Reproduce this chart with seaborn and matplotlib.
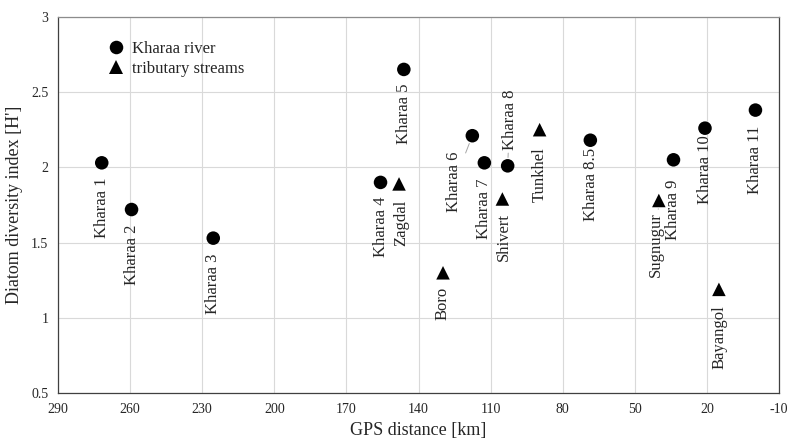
import numpy as np
import pandas as pd
import matplotlib
matplotlib.use("Agg")
import matplotlib.pyplot as plt
import seaborn as sns

# ==========================================
# DATA
# ==========================================

sites = ['Kharaa 1', 'Kharaa 2', 'Kharaa 3', 'Kharaa 4', 'Zagdal', 'Kharaa 5',
         'Boro', 'Kharaa 6', 'Kharaa 7', 'Shivert', 'Kharaa 8', 'Tunkhel',
         'Kharaa 8.5', 'Sugnugur', 'Kharaa 9', 'Kharaa 10', 'Bayangol', 'Kharaa 11']
distance_km = [271.8, 259.4, 225.4, 155.8, 148.1, 146.1,
               129.8, 117.6, 112.6, 105.1, 102.9, 89.6,
               68.5, 40.0, 33.9, 20.8, 15.0, -0.2]
diversity_h = [2.03, 1.72, 1.53, 1.90, 1.89, 2.65,
               1.30, 2.21, 2.03, 1.79, 2.01, 2.25,
               2.18, 1.78, 2.05, 2.26, 1.19, 2.38]
site_type = ['Kharaa river', 'Kharaa river', 'Kharaa river', 'Kharaa river',
             'tributary streams', 'Kharaa river', 'tributary streams',
             'Kharaa river', 'Kharaa river', 'tributary streams', 'Kharaa river',
             'tributary streams', 'Kharaa river', 'tributary streams',
             'Kharaa river', 'Kharaa river', 'tributary streams', 'Kharaa river']

x_ticks = [290, 260, 230, 200, 170, 140, 110, 80, 50, 20, -10]
y_ticks = [0.5, 1, 1.5, 2, 2.5, 3]

df = pd.DataFrame({'site': sites, 'km': distance_km,
                   'H': diversity_h, 'type': site_type})

# label placement (pixels from the point), (dx, dy, va, leader line)
label_pos = {
    'Kharaa 1': (0, -15, 'top', False),
    'Kharaa 2': (0, -15, 'top', False),
    'Kharaa 3': (0, -15, 'top', False),
    'Kharaa 4': (0, -14, 'top', False),
    'Zagdal': (2, -16, 'top', False),
    'Kharaa 5': (0, -14, 'top', False),
    'Boro': (0, -14, 'top', False),
    'Kharaa 6': (-18, -16, 'top', True),
    'Kharaa 7': (0, -16, 'top', False),
    'Shivert': (1, -14, 'top', False),
    'Kharaa 8': (2, 16, 'bottom', True),
    'Tunkhel': (0, -18, 'top', False),
    'Kharaa 8.5': (1, -8, 'top', False),
    'Sugnugur': (-3, -12, 'top', True),
    'Kharaa 9': (0, -20, 'top', False),
    'Kharaa 10': (0, -7, 'top', False),
    'Bayangol': (1, -16, 'top', False),
    'Kharaa 11': (0, -16, 'top', False),
}

# ==========================================
# STYLE
# ==========================================

sns.set_style("white")
plt.rcParams['font.family'] = ['Liberation Serif', 'DejaVu Serif']
plt.rcParams['axes.unicode_minus'] = False

fig, ax = plt.subplots(figsize=(7.88, 4.42), dpi=100)
fig.subplots_adjust(left=58 / 788, right=779 / 788,
                    top=1 - 16.7 / 442, bottom=1 - 393.3 / 442)

# ==========================================
# SCATTER
# ==========================================

sns.scatterplot(
    data=df, x='km', y='H',
    hue='type', style='type',
    palette={'Kharaa river': 'black', 'tributary streams': 'black'},
    markers={'Kharaa river': 'o', 'tributary streams': '^'},
    s=95, linewidth=0, ax=ax, zorder=3
)

for name, x, y in zip(sites, distance_km, diversity_h):
    dx, dy, va, leader = label_pos[name]
    arrow = None
    if leader:
        arrow = dict(arrowstyle='-', color='#a6a6a6', lw=0.7,
                     shrinkA=0, shrinkB=6)
    ax.annotate(name, xy=(x, y), xytext=(dx, dy),
                textcoords='offset pixels', rotation=90,
                ha='center', va=va, fontsize=12,
                arrowprops=arrow, zorder=4)

# ==========================================
# AXES
# ==========================================

ax.set_xlim(290, -10)
ax.set_ylim(0.5, 3)
ax.set_xticks(x_ticks)
ax.set_yticks(y_ticks)
ax.set_yticklabels([f"{v:g}" for v in y_ticks])
ax.tick_params(axis='both', length=0, labelsize=10, pad=7)

ax.grid(True, color='#d9d9d9', lw=0.8)
ax.set_axisbelow(True)

for side in ['left', 'bottom', 'right']:
    ax.spines[side].set_color('#404040')
    ax.spines[side].set_linewidth(0.9)
ax.spines['top'].set_color('#8c8c8c')
ax.spines['top'].set_linewidth(0.9)

ax.set_xlabel("GPS distance [km]", fontsize=13, labelpad=4)
ax.set_ylabel("Diatom diversity index [H']", fontsize=13, labelpad=6)

sns.move_legend(
    ax, 'upper left', bbox_to_anchor=(0.059, 0.954),
    title=None, frameon=False, fontsize=12,
    handlelength=1.0, handletextpad=0.5,
    labelspacing=0.25, borderaxespad=0
)

plt.savefig("out.png", dpi=100)
